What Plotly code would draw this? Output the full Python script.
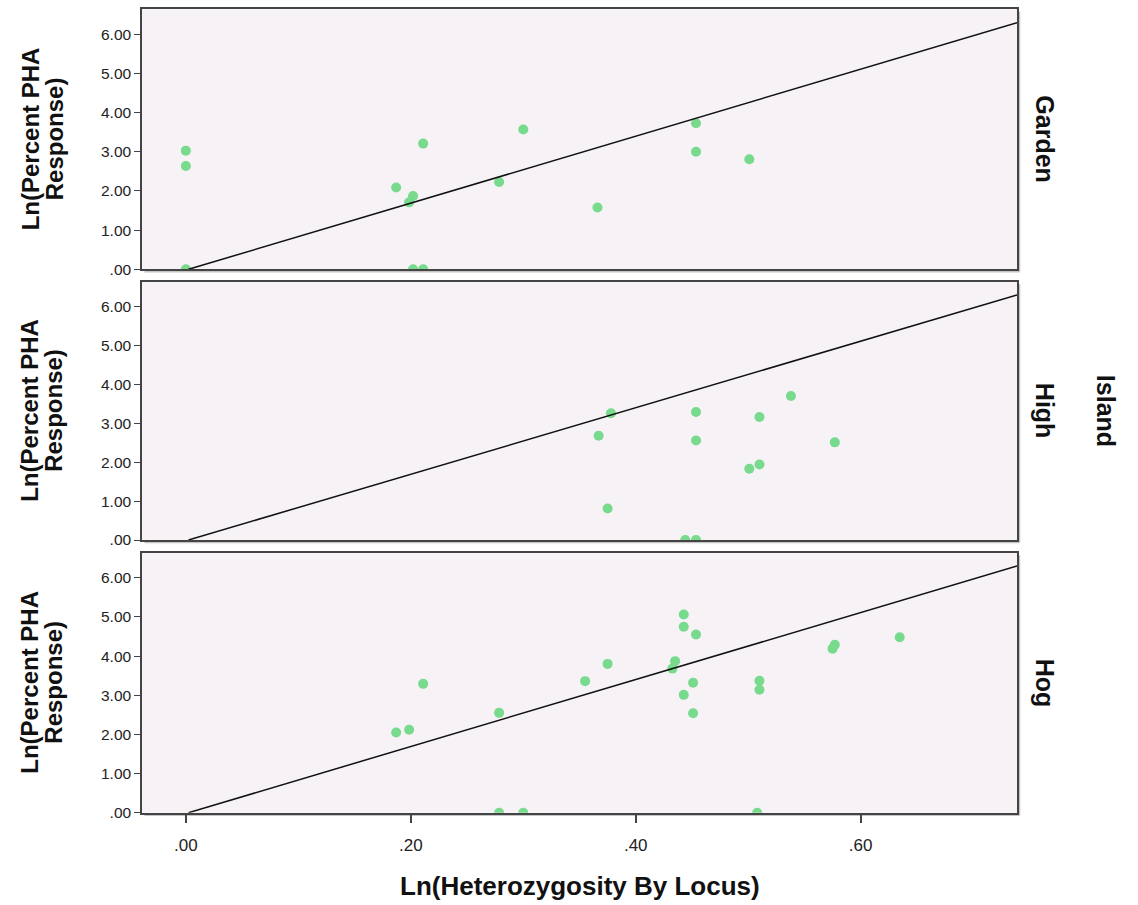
import plotly.graph_objects as go

# ---- data ----
garden_x = [0.000, 0.000, 0.000, 0.187, 0.202, 0.1985, 0.211, 0.202, 0.211, 0.2785, 0.300, 0.366, 0.4536, 0.4536, 0.501]
garden_y = [3.03, 2.64, 0.00, 2.09, 1.87, 1.71, 3.21, 0.00, 0.00, 2.23, 3.57, 1.58, 3.73, 3.00, 2.81]

high_x = [0.367, 0.378, 0.375, 0.4536, 0.4536, 0.444, 0.4536, 0.510, 0.538, 0.510, 0.501, 0.577]
high_y = [2.68, 3.26, 0.81, 3.29, 2.56, 0.00, 0.00, 3.16, 3.70, 1.94, 1.83, 2.51]

hog_x = [0.187, 0.1985, 0.211, 0.2785, 0.2785, 0.300, 0.355, 0.375, 0.435, 0.4326, 0.4427, 0.4427,
         0.4536, 0.451, 0.4427, 0.451, 0.510, 0.510, 0.508, 0.575, 0.577, 0.6347]
hog_y = [2.05, 2.12, 3.29, 2.55, 0.00, 0.00, 3.36, 3.80, 3.87, 3.68, 5.06, 4.75,
         4.55, 3.32, 3.01, 2.54, 3.37, 3.14, 0.00, 4.19, 4.29, 4.48]

panel_names = ["Garden", "High", "Hog"]
facet_title = "Island"

fit_intercept = -0.02
fit_slope = 8.55

x_range = [-0.039, 0.739]
y_range = [0, 6.64]

x_tickvals = [0.0, 0.2, 0.4, 0.6]
x_ticktext = [".00", ".20", ".40", ".60"]
y_tickvals = [0, 1, 2, 3, 4, 5, 6]
y_ticktext = [".00", "1.00", "2.00", "3.00", "4.00", "5.00", "6.00"]

x_title = "Ln(Heterozygosity By Locus)"
y_title_lines = ["Ln(Percent PHA", "Response)"]

# ---- styling ----
POINT = "#78DA8C"
BG = "#F6F2F6"
FRAME = "#444444"
SHADOW = "#C4C4C4"
FONT = "Liberation Sans, Arial, sans-serif"
TXT = "#111111"

W, H = 1138, 905
ml, mr, mt, mb = 142, 121, 9, 92
plot_w = W - ml - mr
plot_h = H - mt - mb
panels_px = [(9.3, 269.3), (281.7, 540.0), (552.7, 812.7)]
domains = [[max(0, (H - mb - b) / plot_h), min(1, (H - mb - t) / plot_h)] for t, b in panels_px]

series = [(garden_x, garden_y), (high_x, high_y), (hog_x, hog_y)]

def px_to_paper_x(px):
    return (px - ml) / plot_w

def px_to_paper_y(py):
    return (H - mb - py) / plot_h

fig = go.Figure()

x0_line = max(x_range[0], -fit_intercept / fit_slope)
line_x = [x0_line, x_range[1]]
line_y = [fit_intercept + fit_slope * v for v in line_x]

for i, (xs, ys) in enumerate(series):
    n = "" if i == 0 else str(i + 1)
    fig.add_trace(go.Scatter(x=xs, y=ys, mode="markers", xaxis="x" + n, yaxis="y" + n,
                             marker=dict(color=POINT, size=10, symbol="circle", line=dict(width=0)),
                             showlegend=False, cliponaxis=True, hoverinfo="skip"))
    fig.add_trace(go.Scatter(x=line_x, y=line_y, mode="lines", xaxis="x" + n, yaxis="y" + n,
                             line=dict(color="#111111", width=1.5), showlegend=False,
                             cliponaxis=True, hoverinfo="skip"))

layout = dict(
    width=W, height=H,
    margin=dict(l=ml, r=mr, t=mt, b=mb),
    paper_bgcolor="white",
    plot_bgcolor=BG,
    font=dict(family=FONT, color=TXT),
    showlegend=False,
)

for i in range(3):
    n = "" if i == 0 else str(i + 1)
    is_bottom = (i == 2)
    xa = dict(
        range=x_range, domain=[0, 1], anchor="y" + n,
        showline=True, mirror=True, linecolor=FRAME, linewidth=1.5,
        showgrid=False, zeroline=False,
        tickvals=x_tickvals, ticktext=x_ticktext,
        ticks="outside" if is_bottom else "", ticklen=9, tickwidth=1.5, tickcolor=FRAME,
        showticklabels=is_bottom, ticklabelstandoff=7,
        tickfont=dict(size=17, family=FONT, color="#222222"),
    )
    if i > 0:
        xa["matches"] = "x"
    layout["xaxis" + n] = xa
    layout["yaxis" + n] = dict(
        range=y_range, domain=domains[i], anchor="x" + n,
        showline=True, mirror=True, linecolor=FRAME, linewidth=1.5,
        showgrid=False, zeroline=False,
        tickvals=y_tickvals, ticktext=y_ticktext,
        ticks="outside", ticklen=6, tickwidth=1.2, tickcolor=FRAME,
        tickfont=dict(size=15.5, family=FONT, color="#222222"),
    )

# light shadow along right and bottom edges of each panel frame
shapes = []
dx = 2.5 / plot_w
dy = 2.5 / plot_h
for d in domains:
    shapes.append(dict(type="line", xref="paper", yref="paper", x0=1 + dx, x1=1 + dx,
                       y0=d[0] - dy, y1=d[1] - dy, line=dict(color=SHADOW, width=1.5), layer="below"))
    shapes.append(dict(type="line", xref="paper", yref="paper", x0=dx, x1=1 + dx,
                       y0=d[0] - dy, y1=d[0] - dy, line=dict(color=SHADOW, width=1.5), layer="below"))
layout["shapes"] = shapes

title_font = dict(size=24, family=FONT, color=TXT, weight="bold")
annotations = []
for i, name in enumerate(panel_names):
    yc = sum(domains[i]) / 2
    for line, cx in zip(y_title_lines, [30, 54]):
        annotations.append(dict(text=line, xref="paper", yref="paper", x=px_to_paper_x(cx), y=yc,
                                xanchor="center", yanchor="middle", textangle=-90, showarrow=False,
                                font=title_font))
    annotations.append(dict(text=name, xref="paper", yref="paper", x=px_to_paper_x(1045), y=yc,
                            xanchor="center", yanchor="middle", textangle=90, showarrow=False,
                            font=dict(size=25, family=FONT, color=TXT, weight="bold")))
annotations.append(dict(text=facet_title, xref="paper", yref="paper", x=px_to_paper_x(1106),
                        y=sum(domains[1]) / 2,
                        xanchor="center", yanchor="middle", textangle=90, showarrow=False,
                        font=dict(size=25, family=FONT, color=TXT, weight="bold")))
annotations.append(dict(text=x_title, xref="paper", yref="paper", x=0.5, y=px_to_paper_y(886),
                        xanchor="center", yanchor="middle", showarrow=False,
                        font=dict(size=26, family=FONT, color=TXT, weight="bold")))
layout["annotations"] = annotations

fig.update_layout(**layout)
fig.write_html("out.html")
